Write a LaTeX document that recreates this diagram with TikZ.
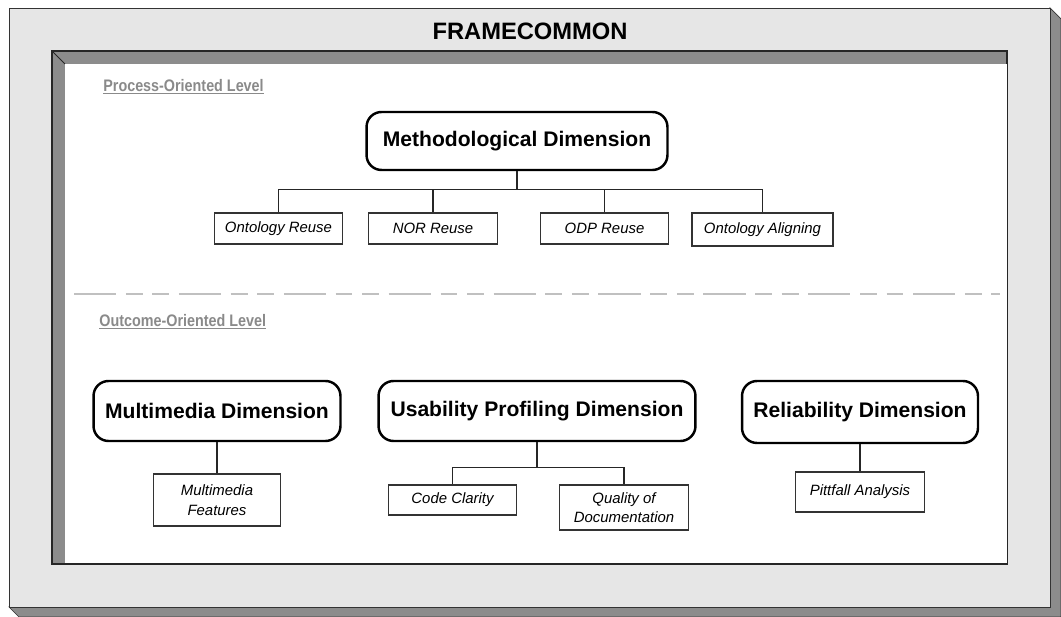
\documentclass[tikz,border=0pt]{standalone}
\usepackage{fontspec}
\setmainfont{Liberation Sans}
\newfontfamily\narrowsf[FakeStretch=0.86]{Liberation Sans}
\usepackage{xcolor}
\definecolor{framegray}{HTML}{E6E6E6}
\definecolor{bandgray}{HTML}{8C8C8C}
\definecolor{levelgray}{HTML}{8A8A8A}
\definecolor{sepgray}{HTML}{C0C0C0}

\begin{document}
\begin{tikzpicture}[x=0.02cm,y=-0.02cm,-,thin,dim node/.style={draw=black,line width=1.4pt,rounded corners=0.3cm,align=center,font=\fontsize{12}{14}\selectfont\bfseries,inner sep=0pt},item node/.style={draw=black!80,line width=0.6pt,fill=white,align=center,minimum width=2.57cm,minimum height=0.62cm,font=\fontsize{8.5}{11}\selectfont\itshape,inner sep=0pt}]
\tikzstyle{level label} = [anchor=west,text=levelgray,font=\fontsize{9.5}{11}\selectfont\narrowsf\bfseries,inner sep=0pt]
\tikzstyle{tree edge} = [draw=black!85,line width=0.6pt]

\useasboundingbox (0,0) rectangle (1061,617);

% outer frame with its shadow
\filldraw[draw=black!80, fill=bandgray] (1050,8) -- (1061,19) -- (1061,617) -- (19,617) -- (9,607) -- (1050,607) -- cycle;
\filldraw[draw=black!80, fill=framegray] (9,8) rectangle (1050,607);
\node (title) at (530,31) {\fontsize{13.5}{16}\selectfont\bfseries FRAMECOMMON};

% inner frame
\filldraw[draw=black!85, fill=bandgray, line width=0.7pt] (52,51) rectangle (1007,564);
\fill[white] (65,64) rectangle (1006.5,563.5);
\draw[black!85, line width=0.5pt] (52,51) -- (65,64);

% process level
\node[level label] (proclevel) at (103,87) {\underline{Process-Oriented Level}};

\node[dim node, minimum width=6.02cm, minimum height=1.16cm] (meth) at (517,141) {Methodological Dimension};

\node[item node] (ontre) at (278.5,228.5) {Ontology Reuse};
\node[item node] (norre) at (433,228.5) {NOR Reuse};
\node[item node] (odpre) at (604.5,228.5) {ODP Reuse};
\node[item node, minimum width=2.82cm, minimum height=0.66cm] (ontal) at (762.5,229.5) {Ontology Aligning};

\foreach \n in {ontre,norre,odpre,ontal}
  \path[tree edge] (meth.south) -- ++(0,18) -| (\n.north);

% separator
\coordinate (sepstart) at (74,294);
\coordinate (sepstop) at (1000,294);
\draw[sepgray, line width=0.8pt, dash pattern=on 24pt off 5.5pt on 9.6pt off 5.5pt on 9.6pt off 5.5pt] (sepstart) -- (sepstop);

% outcome level
\node[level label] (outlevel) at (99,322) {\underline{Outcome-Oriented Level}};

\node[dim node, minimum width=4.94cm, minimum height=1.2cm] (multi) at (217,411) {Multimedia Dimension};
\node[dim node, minimum width=6.34cm, minimum height=1.2cm] (usab) at (537,411) {Usability Profiling Dimension};
\node[dim node, minimum width=4.72cm, minimum height=1.24cm] (relia) at (860,412) {Reliability Dimension};

\node[item node, minimum width=2.54cm, minimum height=1.04cm] (mmfeat) at (217,500) {Multimedia\\Features};
\node[item node, minimum height=0.6cm] (codecl) at (452.5,500) {Code Clarity};
\node[item node, minimum height=0.9cm] (qualdoc) at (624,507.5) {Quality of\\Documentation};
\node[item node, minimum height=0.8cm] (pitfall) at (860,492) {Pittfall Analysis};

\path[tree edge] (multi.south) -- (mmfeat.north);
\path[tree edge] (usab.south) -- ++(0,25) -| (codecl.north);
\path[tree edge] (usab.south) -- ++(0,25) -| (qualdoc.north);
\path[tree edge] (relia.south) -- (pitfall.north);

\end{tikzpicture}
\end{document}
